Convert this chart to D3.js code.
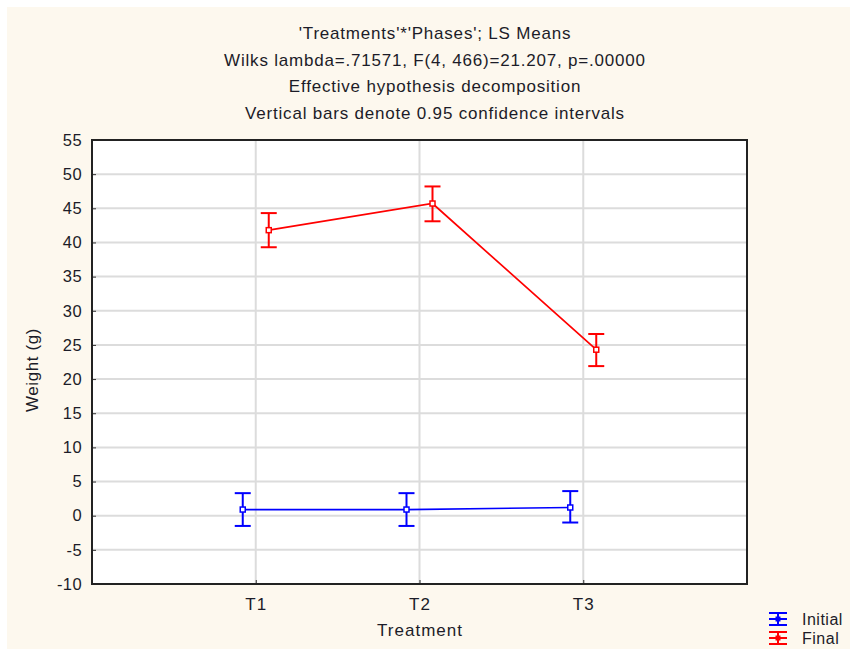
<!DOCTYPE html>
<html>
<head>
<meta charset="utf-8">
<script src="https://cdn.jsdelivr.net/npm/d3@7"></script>
<style>
body{margin:0;background:#fff;}
text{font-family:"Liberation Sans",Arial,sans-serif;fill:#1c1c28;}
</style>
</head>
<body>
<script>
var treatments=["T1","T2","T3"]
var yTicks=[-10,-5,0,5,10,15,20,25,30,35,40,45,50,55]
var initialMean=[0.9,0.9,1.2]
var initialLow=[-1.5,-1.5,-1.0]
var initialHigh=[3.3,3.3,3.6]
var finalMean=[41.8,45.7,24.3]
var finalLow=[39.3,43.1,21.9]
var finalHigh=[44.3,48.2,26.6]
var titles=["'Treatments'*'Phases'; LS Means","Wilks lambda=.71571, F(4, 466)=21.207, p=.00000","Effective hypothesis decomposition","Vertical bars denote 0.95 confidence intervals"]

var screen={width:850,height:649}
var plot={left:92,top:140,right:747,bottom:584}

var svg=d3.select("body").append("svg")
          .attr("width",screen.width)
          .attr("height",screen.height)

svg.append("rect").attr("x",7).attr("y",7)
   .attr("width",screen.width-7).attr("height",screen.height-7)
   .attr("fill","#fdf8ee")

var x=d3.scalePoint().domain(treatments).range([plot.left,plot.right]).padding(1)
var y=d3.scaleLinear().domain([-10,55]).range([plot.bottom,plot.top])

svg.append("rect").attr("x",plot.left).attr("y",plot.top)
   .attr("width",plot.right-plot.left).attr("height",plot.bottom-plot.top)
   .attr("fill","white")

// grid
svg.append("g").selectAll("line")
   .data(yTicks.filter(function(d){return d>-10&&d<55}))
   .enter().append("line")
   .attr("x1",plot.left).attr("x2",plot.right)
   .attr("y1",function(d){return y(d)}).attr("y2",function(d){return y(d)})
   .attr("stroke","#dcdcdc").attr("stroke-width",2)
svg.append("g").selectAll("line")
   .data(treatments)
   .enter().append("line")
   .attr("x1",function(d){return x(d)}).attr("x2",function(d){return x(d)})
   .attr("y1",plot.top).attr("y2",plot.bottom)
   .attr("stroke","#dcdcdc").attr("stroke-width",2)

// axes
var yAxis=d3.axisLeft(y).tickValues(yTicks).tickSize(-4).tickPadding(10)
            .tickFormat(function(d){return String(d)})
var gy=svg.append("g").attr("transform","translate("+plot.left+",0)").call(yAxis)
gy.select(".domain").remove()
gy.selectAll("line").attr("stroke","#333")
gy.selectAll("text").attr("font-size",16.5).attr("fill","#1c1c28")
  .attr("letter-spacing",0.4)
  .attr("font-family","Liberation Sans, Arial, sans-serif")

var xAxis=d3.axisBottom(x).tickSize(-4).tickPadding(14)
var gx=svg.append("g").attr("transform","translate(0,"+plot.bottom+")").call(xAxis)
gx.select(".domain").remove()
gx.selectAll("line").attr("stroke","#333")
gx.selectAll("text").attr("font-size",17).attr("fill","#1c1c28")
  .attr("letter-spacing",1)
  .attr("font-family","Liberation Sans, Arial, sans-serif")

svg.append("rect").attr("x",plot.left).attr("y",plot.top)
   .attr("width",plot.right-plot.left).attr("height",plot.bottom-plot.top)
   .attr("fill","none").attr("stroke","#222").attr("stroke-width",2)

// titles
svg.append("g").selectAll("text").data(titles).enter().append("text")
   .attr("x",435).attr("y",function(d,i){return 39+i*26.5})
   .attr("text-anchor","middle").attr("font-size",17).attr("letter-spacing",0.8)
   .text(function(d){return d})

svg.append("text").attr("transform","translate(38,370) rotate(-90)")
   .attr("text-anchor","middle").attr("font-size",17).attr("letter-spacing",0.6).text("Weight (g)")
svg.append("text").attr("x",420).attr("y",636)
   .attr("text-anchor","middle").attr("font-size",17).attr("letter-spacing",1).text("Treatment")

// series
var drawSeries=function(mean,low,high,color,offset){
  var g=svg.append("g")
  var pts=treatments.map(function(t,i){return {x:x(t)+offset,m:mean[i],lo:low[i],hi:high[i]}})
  var line=d3.line().x(function(d){return d.x}).y(function(d){return y(d.m)})
  g.append("path").attr("d",line(pts)).attr("fill","none")
   .attr("stroke",color).attr("stroke-width",1.7)
  var bars=g.selectAll("g.bar").data(pts).enter().append("g")
  bars.append("line").attr("x1",function(d){return d.x}).attr("x2",function(d){return d.x})
      .attr("y1",function(d){return y(d.lo)}).attr("y2",function(d){return y(d.hi)})
      .attr("stroke",color).attr("stroke-width",2)
  bars.append("line").attr("x1",function(d){return d.x-8}).attr("x2",function(d){return d.x+8})
      .attr("y1",function(d){return y(d.lo)}).attr("y2",function(d){return y(d.lo)})
      .attr("stroke",color).attr("stroke-width",2)
  bars.append("line").attr("x1",function(d){return d.x-8}).attr("x2",function(d){return d.x+8})
      .attr("y1",function(d){return y(d.hi)}).attr("y2",function(d){return y(d.hi)})
      .attr("stroke",color).attr("stroke-width",2)
  bars.append("rect").attr("x",function(d){return d.x-2.5}).attr("y",function(d){return y(d.m)-2.5})
      .attr("width",5).attr("height",5)
      .attr("fill","white").attr("stroke",color).attr("stroke-width",1.5)
}
drawSeries(initialMean,initialLow,initialHigh,"#0000ff",-13)
drawSeries(finalMean,finalLow,finalHigh,"#ff0000",13)

// legend
var legend=[{name:"Initial",color:"#0000ff"},{name:"Final",color:"#ff0000"}]
var lg=svg.append("g").selectAll("g").data(legend).enter().append("g")
   .attr("transform",function(d,i){return "translate(778,"+(619+i*19)+")"})
lg.append("line").attr("x1",0).attr("x2",0).attr("y1",-6).attr("y2",6)
  .attr("stroke",function(d){return d.color}).attr("stroke-width",2)
lg.selectAll("line.h").data(function(d){return [-6,0,6].map(function(v){return {v:v,c:d.color}})})
  .enter().append("line").attr("x1",-9).attr("x2",9)
  .attr("y1",function(d){return d.v}).attr("y2",function(d){return d.v})
  .attr("stroke",function(d){return d.c}).attr("stroke-width",2)
lg.append("rect").attr("x",-2.5).attr("y",-2.5).attr("width",5).attr("height",5)
  .attr("fill",function(d){return d.color})
lg.append("text").attr("x",24).attr("y",5.5).attr("font-size",16).attr("letter-spacing",0.5)
  .text(function(d){return d.name})
</script>
</body>
</html>
